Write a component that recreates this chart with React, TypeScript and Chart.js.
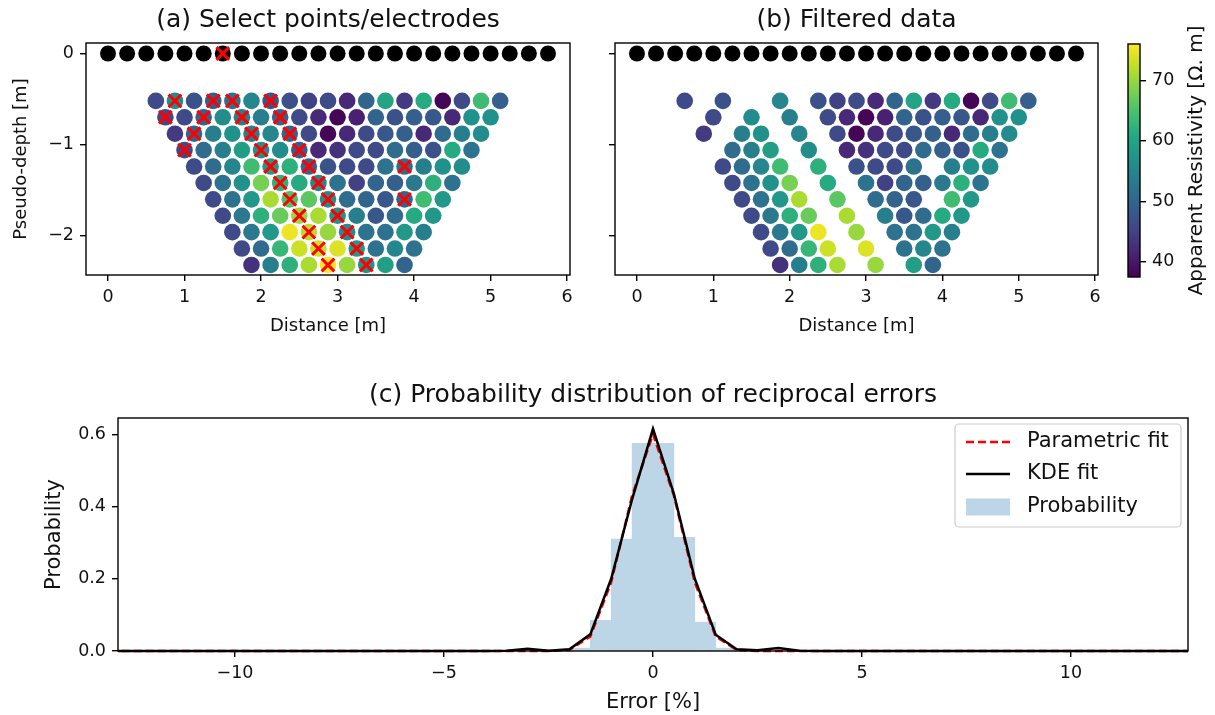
import { useEffect, useRef } from "react";
import { Chart, registerables } from "chart.js";
Chart.register(...registerables);

const FONT = "'DejaVu Sans', 'Liberation Sans', Arial, sans-serif";
const FS = 17.5; // tick labels
const LFS = 21; // axis labels (c) / legend
const LFS_AB = 18; // axis labels (a), (b)
const TFS = 25; // subplot titles
const CW = 1215;
const CH = 715;
const TXT = "#111";

// ---------------- data: electrodes ----------------
const electrodeX = [0, 0.25, 0.5, 0.75, 1, 1.25, 1.5, 1.75, 2, 2.25, 2.5, 2.75, 3, 3.25, 3.5, 3.75, 4, 4.25, 4.5, 4.75, 5, 5.25, 5.5, 5.75];
const electrodeDepth = 0;
const flaggedElectrodes = [1.5];

// ---------------- data: pseudo-section ----------------
const rowDepth = [-0.52, -0.7, -0.88, -1.06, -1.24, -1.42, -1.6, -1.78, -1.96, -2.14, -2.32];
const rowStart = [0.625, 0.75, 0.875, 1.0, 1.125, 1.25, 1.375, 1.5, 1.625, 1.75, 1.875];
const pointSpacing = 0.25;

const resRow1 = [46, 56, 47, 49, 52, 55, 48, 47, 45, 46, 42, 50, 60, 44, 61, 38, 46, 64, 49];
const resRow2 = [46, 46, 50, 56, 54, 54, 50, 46, 42, 38, 41, 50, 47, 49, 48, 42, 57, 57];
const resRow3 = [44, 50, 54, 57, 54, 55, 50, 46, 38, 42, 46, 48, 49, 42, 51, 54, 56];
const resRow4 = [46, 51, 54, 59, 57, 56, 49, 42, 43, 46, 46, 51, 49, 47, 61, 52];
const resRow5 = [46, 51, 55, 64, 58, 62, 50, 47, 46, 46, 52, 51, 54, 57, 56];
const resRow6 = [46, 52, 57, 68, 62, 61, 55, 52, 45, 50, 49, 53, 62, 52];
const resRow7 = [46, 52, 58, 71, 65, 66, 56, 51, 50, 48, 50, 64, 58];
const resRow8 = [46, 53, 62, 67, 70, 71, 57, 54, 48, 51, 61, 58];
const resRow9 = [46, 53, 58, 75, 72, 70, 56, 52, 52, 58, 54];
const resRow10 = [46, 51, 63, 73, 73, 74, 58, 52, 55, 52];
const resRow11 = [43, 54, 62, 71, 76, 70, 57, 59, 50];
const resRows = [resRow1, resRow2, resRow3, resRow4, resRow5, resRow6, resRow7, resRow8, resRow9, resRow10, resRow11];

// indices (within each row) of the selected / removed measurements
const removedIdx = [[1, 3, 4, 6], [0, 2, 4, 6], [1, 4, 6], [0, 4, 6], [4, 6, 11], [4, 6], [4, 6, 10], [4, 6], [4, 6], [4, 6], [4, 6]];

const cbMin = 37.5;
const cbMax = 76;

// ---------------- data: reciprocal errors ----------------
const binCenters = [-1.75, -1.25, -0.75, -0.25, 0.25, 0.75, 1.25, 1.75];
const binProb = [0.008, 0.085, 0.31, 0.575, 0.575, 0.315, 0.08, 0.008];
const kdeX = [-13, -4, -3.5, -3, -2.5, -2, -1.5, -1, -0.5, 0, 0.5, 1, 1.5, 2, 2.5, 3, 3.5, 4, 13];
const kdeY = [0, 0, 0.001, 0.006, 0.001, 0.005, 0.046, 0.2, 0.42, 0.615, 0.435, 0.2, 0.045, 0.005, 0.002, 0.008, 0.001, 0, 0];
const fitX = [-13, -2.5, -2, -1.5, -1, -0.5, 0, 0.5, 1, 1.5, 2, 2.5, 13];
const fitY = [0, 0, 0.003, 0.04, 0.19, 0.43, 0.6, 0.43, 0.19, 0.04, 0.003, 0, 0];

// ---------------- colormap ----------------
const viridisStops = ["#440154", "#482475", "#414487", "#355f8d", "#2a788e", "#21918c", "#22a884", "#44bf70", "#7ad151", "#bddf26", "#fde725"];
function hexRgb(h: string) {
  return [parseInt(h.slice(1, 3), 16), parseInt(h.slice(3, 5), 16), parseInt(h.slice(5, 7), 16)];
}
function viridis(t: number) {
  const c = Math.max(0, Math.min(1, t)) * 10;
  const i = Math.min(9, Math.floor(c));
  const f = c - i;
  const a = hexRgb(viridisStops[i]);
  const b = hexRgb(viridisStops[i + 1]);
  const m = a.map((v, k) => Math.round(v + (b[k] - v) * f));
  return `rgb(${m[0]},${m[1]},${m[2]})`;
}
const colorFor = (v: number) => viridis((v - cbMin) / (cbMax - cbMin));

const fmt = (v: number, d = 0) => {
  const s = Math.abs(v) < 1e-9 ? (0).toFixed(d) : Number(v).toFixed(d);
  return s.replace("-", "\u2212");
};

// ---------------- plugins ----------------
const framePlugin = {
  id: "frame",
  afterDatasetsDraw(chart: any) {
    const { left, top, right, bottom } = chart.chartArea;
    const ctx = chart.ctx;
    ctx.save();
    ctx.strokeStyle = "#000";
    ctx.lineWidth = 1.4;
    ctx.strokeRect(left, top, right - left, bottom - top);
    ctx.restore();
  },
};

const titlePlugin = (text: string) => ({
  id: "axTitle",
  afterDraw(chart: any) {
    const { left, right, top } = chart.chartArea;
    const ctx = chart.ctx;
    ctx.save();
    ctx.font = `${TFS}px ${FONT}`;
    ctx.fillStyle = TXT;
    ctx.textAlign = "center";
    ctx.textBaseline = "middle";
    ctx.fillText(text, (left + right) / 2, top - 22.5);
    ctx.restore();
  },
});

const gradientPlugin = {
  id: "cbGradient",
  beforeDatasetsDraw(chart: any) {
    const y = chart.scales.y;
    const { left, right } = chart.chartArea;
    const yTop = y.getPixelForValue(cbMax);
    const yBot = y.getPixelForValue(cbMin);
    const ctx = chart.ctx;
    const g = ctx.createLinearGradient(0, yBot, 0, yTop);
    viridisStops.forEach((c, i) => g.addColorStop(i / (viridisStops.length - 1), c));
    ctx.save();
    ctx.fillStyle = g;
    ctx.fillRect(left, yTop, right - left, yBot - yTop);
    ctx.restore();
  },
};

const sideLabelPlugin = (text: string, dx: number) => ({
  id: "sideLabel",
  afterDraw(chart: any) {
    const { right, top, bottom } = chart.chartArea;
    const ctx = chart.ctx;
    ctx.save();
    ctx.translate(right + dx, (top + bottom) / 2);
    ctx.rotate(-Math.PI / 2);
    ctx.font = `20px ${FONT}`;
    ctx.fillStyle = TXT;
    ctx.textAlign = "center";
    ctx.textBaseline = "middle";
    ctx.fillText(text, 0, 0);
    ctx.restore();
  },
});

const legendPlugin = {
  id: "boxLegend",
  afterDraw(chart: any) {
    const ca = chart.chartArea;
    const ctx = chart.ctx;
    const bw = 226;
    const bh = 103;
    const bx = ca.right - 7 - bw;
    const by = ca.top + 6;
    ctx.save();
    ctx.beginPath();
    if (ctx.roundRect) ctx.roundRect(bx, by, bw, bh, 4);
    else ctx.rect(bx, by, bw, bh);
    ctx.fillStyle = "rgba(255,255,255,0.8)";
    ctx.fill();
    ctx.strokeStyle = "#cccccc";
    ctx.lineWidth = 1.2;
    ctx.stroke();
    const rowsY = [18, 50, 83];
    chart.data.datasets.forEach((ds: any, i: number) => {
      const cy = by + rowsY[i];
      const hx0 = bx + 11;
      const hx1 = bx + 55;
      if (ds.type === "line") {
        ctx.beginPath();
        ctx.setLineDash(ds.borderDash || []);
        ctx.strokeStyle = ds.borderColor;
        ctx.lineWidth = ds.borderWidth;
        ctx.moveTo(hx0, cy);
        ctx.lineTo(hx1, cy);
        ctx.stroke();
        ctx.setLineDash([]);
      } else {
        ctx.fillStyle = ds.backgroundColor;
        ctx.fillRect(hx0, cy - 8.5, hx1 - hx0, 17);
      }
      ctx.font = `${LFS}px ${FONT}`;
      ctx.fillStyle = TXT;
      ctx.textAlign = "left";
      ctx.textBaseline = "middle";
      ctx.fillText(ds.label, bx + 72, cy);
    });
    ctx.restore();
  },
};

// ---------------- scale helpers ----------------
const tickGrid = { drawOnChartArea: false, drawTicks: true, tickLength: 6, color: "#000", lineWidth: 1.4, offset: false };
const tickFont = { family: FONT, size: FS };

function makeScale(opts: {
  position: string; min: number; max: number; step: number; title?: string; size: number;
  titlePad?: number; titleSize?: number; cb: (v: number) => string;
}) {
  const horiz = opts.position === "bottom";
  return {
    type: "linear",
    position: opts.position,
    min: opts.min,
    max: opts.max,
    offset: false,
    grid: tickGrid,
    border: { display: false },
    ticks: {
      stepSize: opts.step,
      includeBounds: false,
      autoSkip: false,
      maxRotation: 0,
      minRotation: 0,
      padding: 6,
      color: TXT,
      font: tickFont,
      callback: (v: any) => opts.cb(Number(v)),
    },
    title: opts.title
      ? {
          display: true,
          text: opts.title,
          color: TXT,
          font: { family: FONT, size: opts.titleSize || LFS },
          padding: { top: opts.titlePad || 0, bottom: 0 },
        }
      : { display: false },
    afterFit: (s: any) => {
      if (horiz) s.height = opts.size;
      else s.width = opts.size;
    },
  };
}

const baseOptions = (padding: any) => ({
  responsive: false,
  maintainAspectRatio: false,
  animation: false,
  devicePixelRatio: 1,
  events: [],
  layout: { padding, autoPadding: false },
  plugins: { legend: { display: false }, tooltip: { enabled: false }, title: { display: false } },
});

// ---------------- build data ----------------
type Pt = { x: number; y: number; v: number; removed: boolean };
function buildPoints(): Pt[] {
  const pts: Pt[] = [];
  resRows.forEach((vals, r) =>
    vals.forEach((v, i) =>
      pts.push({ x: rowStart[r] + i * pointSpacing, y: rowDepth[r], v, removed: removedIdx[r].includes(i) })
    )
  );
  return pts;
}

export default function App() {
  const refA = useRef<HTMLCanvasElement>(null);
  const refB = useRef<HTMLCanvasElement>(null);
  const refCb = useRef<HTMLCanvasElement>(null);
  const refC = useRef<HTMLCanvasElement>(null);

  useEffect(() => {
    const pts = buildPoints();
    const kept = pts.filter((p) => !p.removed);
    const removed = pts.filter((p) => p.removed);
    const electrodes = electrodeX.map((x) => ({ x, y: electrodeDepth }));

    const xRange = { min: -0.2875, max: 6.0375 };
    const yRange = { min: -2.43, max: 0.115 };

    const electrodeDs = {
      label: "electrodes",
      data: electrodes,
      pointRadius: 8,
      pointBackgroundColor: "#000",
      pointBorderWidth: 0,
      order: 4,
    };
    const ptsDs = (list: Pt[]) => ({
      label: "apparent resistivity",
      data: list.map((p) => ({ x: p.x, y: p.y })),
      pointRadius: 8.3,
      pointBackgroundColor: list.map((p) => colorFor(p.v)),
      pointBorderWidth: 0,
      order: 3,
    });
    const crossDs = (list: { x: number; y: number }[]) => ({
      label: "selected",
      data: list,
      pointStyle: "crossRot",
      pointRadius: 9,
      pointBorderColor: "#ff0000",
      pointBackgroundColor: "rgba(0,0,0,0)",
      pointBorderWidth: 3,
      order: 1,
    });

    const chartA = new Chart(refA.current as HTMLCanvasElement, {
      type: "scatter",
      data: {
        datasets: [
          electrodeDs,
          ptsDs(pts),
          crossDs(removed.map((p) => ({ x: p.x, y: p.y }))),
          crossDs(flaggedElectrodes.map((x) => ({ x, y: electrodeDepth }))),
        ] as any,
      },
      options: {
        ...baseOptions({ left: 0, right: 645, top: 43, bottom: 378 }),
        scales: {
          x: makeScale({ position: "bottom", ...xRange, step: 1, title: "Distance [m]", titleSize: LFS_AB, size: 62, cb: (v) => fmt(v) }),
          y: makeScale({ position: "left", ...yRange, step: 1, title: "Pseudo-depth [m]", titleSize: LFS_AB, size: 86, titlePad: 10.2, cb: (v) => fmt(v) }),
        },
      } as any,
      plugins: [framePlugin, titlePlugin("(a) Select points/electrodes")],
    });

    const chartB = new Chart(refB.current as HTMLCanvasElement, {
      type: "scatter",
      data: { datasets: [electrodeDs, ptsDs(kept)] as any },
      options: {
        ...baseOptions({ left: 585, right: 117, top: 43, bottom: 378 }),
        scales: {
          x: makeScale({ position: "bottom", ...xRange, step: 1, title: "Distance [m]", titleSize: LFS_AB, size: 62, cb: (v) => fmt(v) }),
          y: makeScale({ position: "left", ...yRange, step: 1, size: 30, cb: () => "" }),
        },
      } as any,
      plugins: [framePlugin, titlePlugin("(b) Filtered data")],
    });

    const chartCb = new Chart(refCb.current as HTMLCanvasElement, {
      type: "scatter",
      data: { datasets: [] },
      options: {
        ...baseOptions({ left: 1128, right: 0, top: 44, bottom: 438 }),
        scales: {
          x: { display: false, min: 0, max: 1 },
          y: makeScale({ position: "right", min: cbMin, max: cbMax, step: 10, size: 75, cb: (v) => fmt(v) }),
        },
      } as any,
      plugins: [gradientPlugin, framePlugin, sideLabelPlugin("Apparent Resistivity [\u03A9. m]", 57)],
    });

    const chartC = new Chart(refC.current as HTMLCanvasElement, {
      type: "bar",
      data: {
        datasets: [
          {
            type: "line",
            label: "Parametric fit",
            data: fitX.map((x, i) => ({ x, y: fitY[i] })),
            borderColor: "#ff0000",
            borderWidth: 2.5,
            borderDash: [8, 4],
            pointRadius: 0,
            tension: 0,
            fill: false,
            clip: { left: 0, right: 0, top: 5, bottom: 5 },
            order: 2,
          },
          {
            type: "line",
            label: "KDE fit",
            data: kdeX.map((x, i) => ({ x, y: kdeY[i] })),
            borderColor: "#000000",
            borderWidth: 2.5,
            pointRadius: 0,
            tension: 0,
            fill: false,
            clip: { left: 0, right: 0, top: 5, bottom: 5 },
            order: 1,
          },
          {
            type: "bar",
            label: "Probability",
            data: binCenters.map((x, i) => ({ x, y: binProb[i] })),
            backgroundColor: "#bcd6e8",
            borderWidth: 0,
            barPercentage: 1,
            categoryPercentage: 1,
            order: 3,
          },
        ] as any,
      },
      options: {
        ...baseOptions({ left: 0, right: 27, top: 418, bottom: 0 }),
        scales: {
          x: makeScale({ position: "bottom", min: -12.8, max: 12.8, step: 5, title: "Error [%]", size: 64, cb: (v) => fmt(v) }),
          y: makeScale({ position: "left", min: 0, max: 0.645, step: 0.2, title: "Probability", size: 118, titlePad: 42.4, cb: (v) => fmt(v, 1) }),
        },
      } as any,
      plugins: [framePlugin, titlePlugin("(c) Probability distribution of reciprocal errors"), legendPlugin],
    });

    return () => {
      chartA.destroy();
      chartB.destroy();
      chartCb.destroy();
      chartC.destroy();
    };
  }, []);

  const cv: any = { position: "absolute", left: 0, top: 0, width: CW + "px", height: CH + "px" };
  return (
    <div style={{ position: "absolute", left: 0, top: 0, width: CW, height: CH, background: "#fff", overflow: "hidden" }}>
      <canvas ref={refC} width={CW} height={CH} style={cv} />
      <canvas ref={refCb} width={CW} height={CH} style={cv} />
      <canvas ref={refB} width={CW} height={CH} style={cv} />
      <canvas ref={refA} width={CW} height={CH} style={cv} />
    </div>
  );
}
